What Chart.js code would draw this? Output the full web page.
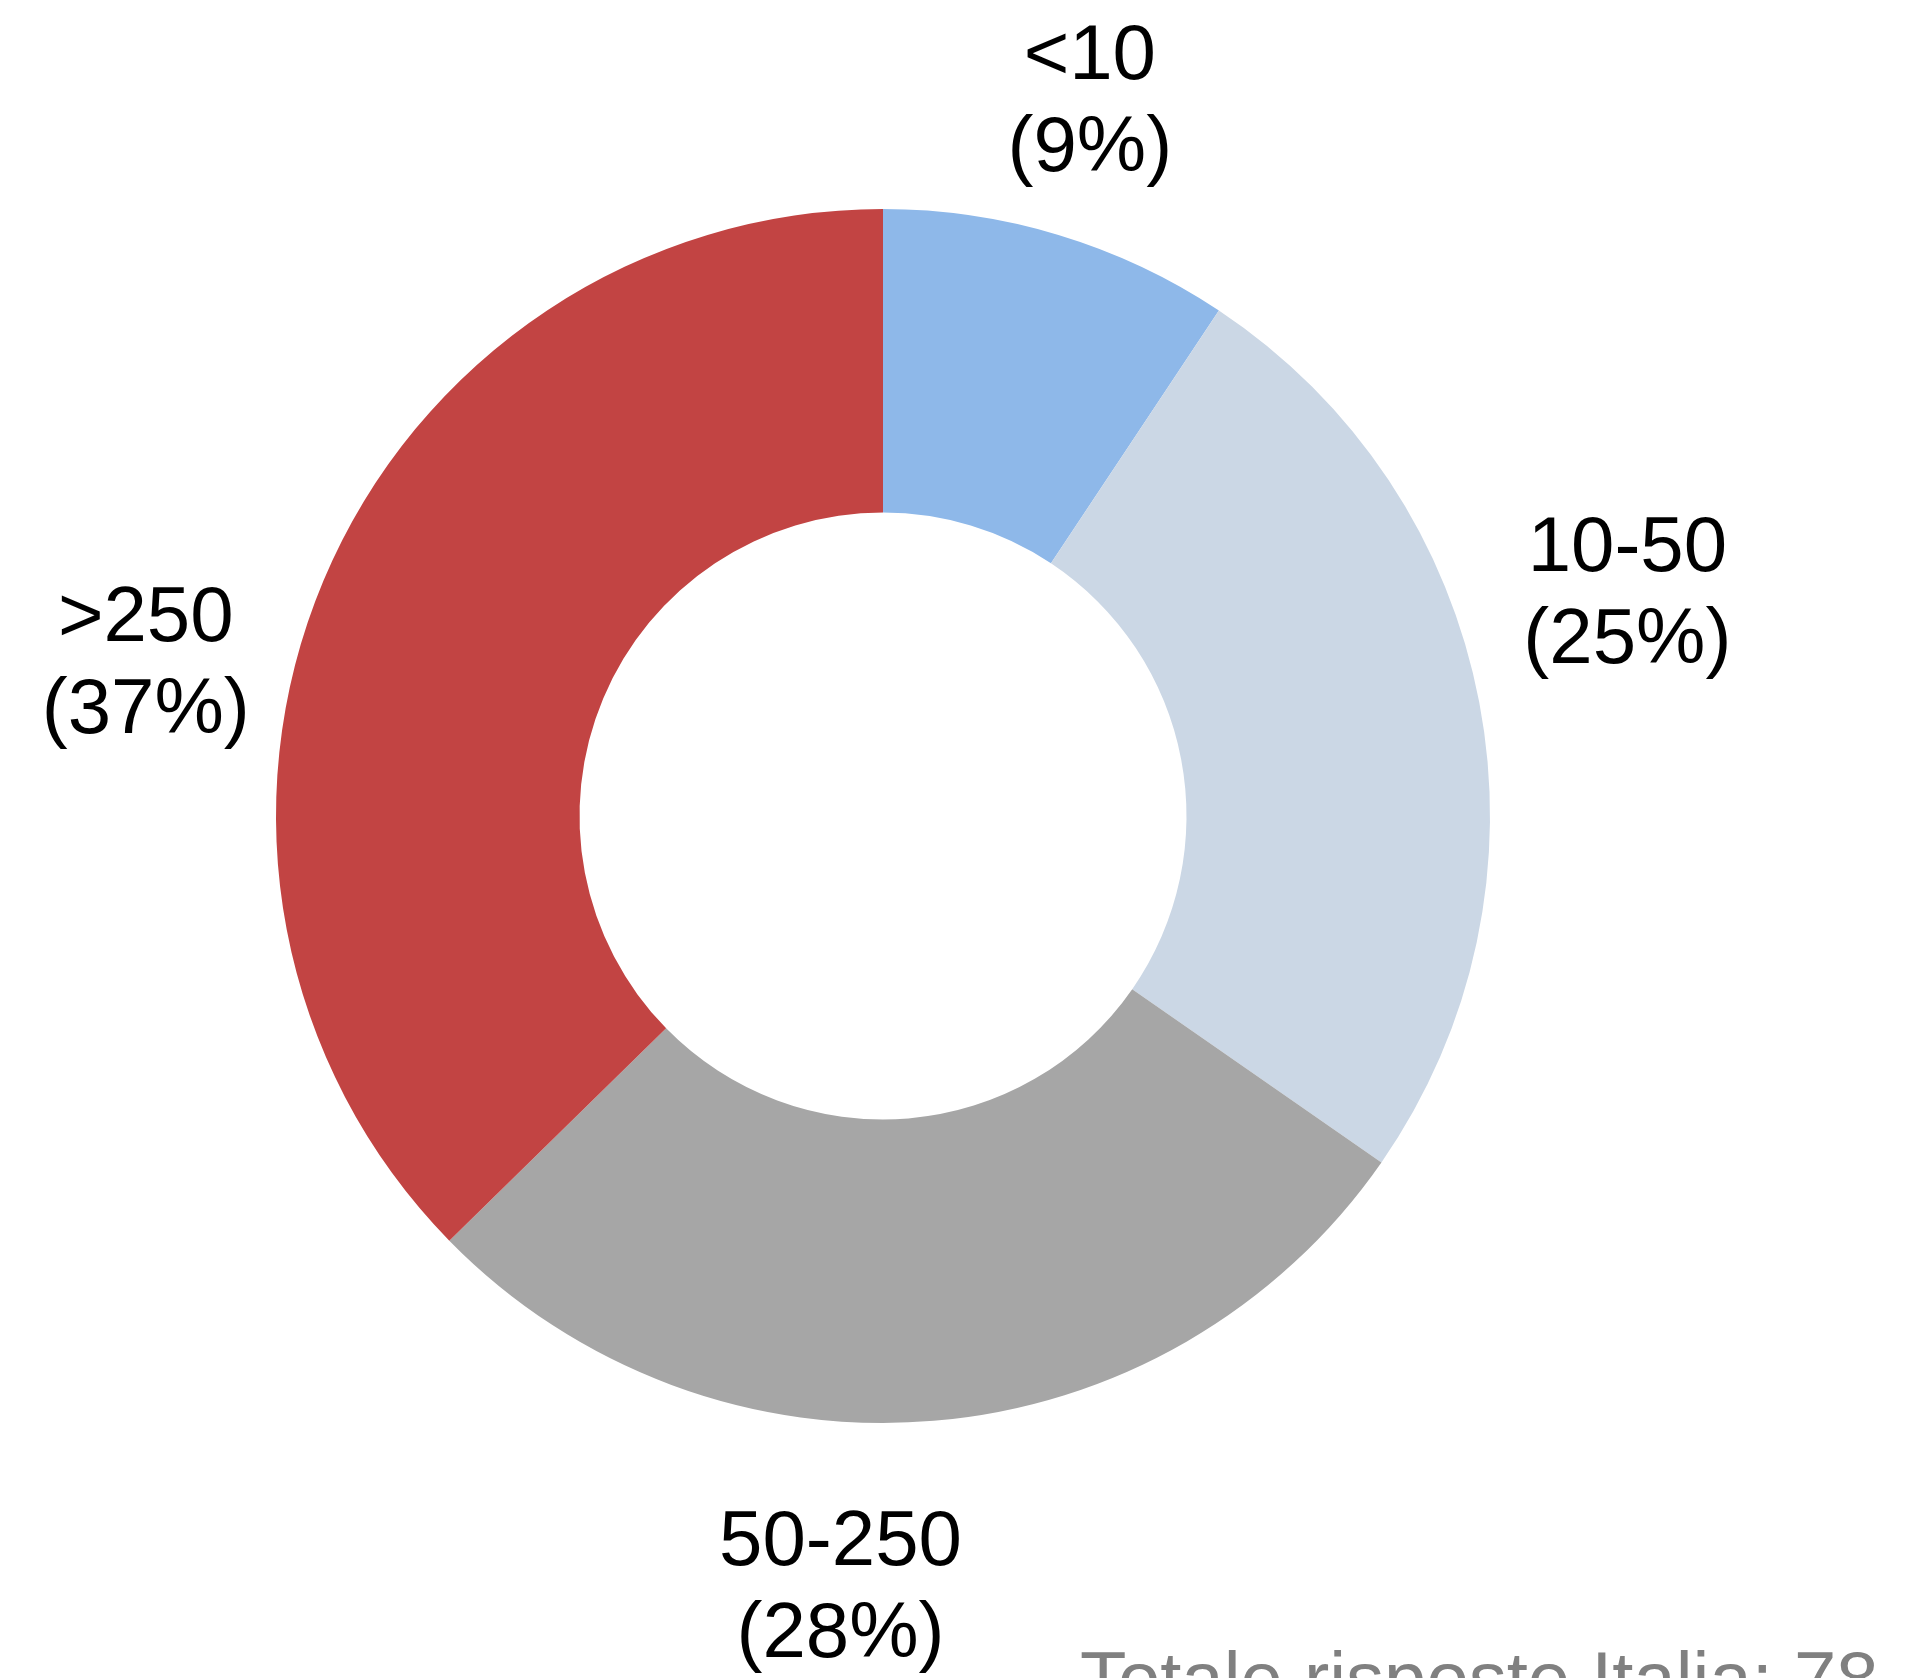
<!DOCTYPE html>
<html>
<head>
<meta charset="utf-8">
<script src="https://cdn.jsdelivr.net/npm/chart.js@4.4.0/dist/chart.umd.min.js"></script>
<style>
  html, body { margin: 0; padding: 0; background: #fff; }
  #wrap { width: 1932px; height: 1678px; position: relative; }
</style>
</head>
<body>
<div id="wrap"><canvas id="myDoughnut" width="1932" height="1678"></canvas></div>
<script>
// risposte per classe di dipendenti
var categories = ['<10', '10-50', '50-250', '>250'];
var counts = [7, 19, 21, 28];
var percentLabels = ['(9%)', '(25%)', '(28%)', '(37%)'];
var colors = ['#8EB8E9', '#CBD7E5', '#A6A6A6', '#C24443'];
var footerText = 'Totale risposte Italia: 78';

// small shifts of each label from its radial spot (px)
var labelNudge = [[-9, 2], [11, -81], [-105, 29], [-49, 139]];

var labelPlugin = {
    id: 'outsideLabels',
    afterDraw: function(chart){
        var ctx = chart.ctx;
        var meta = chart.getDatasetMeta(0);
        ctx.save();
        ctx.font = '78px "Liberation Sans", Arial, sans-serif';
        ctx.fillStyle = '#000';
        ctx.textAlign = 'center';
        ctx.textBaseline = 'middle';
        for(var i in meta.data){
            var arc = meta.data[i];
            var mid = (arc.startAngle + arc.endAngle) / 2;
            var r = arc.outerRadius * 1.23;
            var x = arc.x + Math.cos(mid) * r + labelNudge[i][0];
            var y = arc.y + Math.sin(mid) * r + labelNudge[i][1];
            ctx.fillText(categories[i], x, y - 46);
            ctx.fillText(percentLabels[i], x, y + 46);
        }
        ctx.fillStyle = '#808080';
        ctx.font = '76px "Liberation Sans", Arial, sans-serif';
        ctx.textAlign = 'left';
        ctx.textBaseline = 'alphabetic';
        ctx.fillText(footerText, 1080, 1705);
        ctx.restore();
    }
};

var chartData = {
    labels: categories,
    datasets: [
        {
            data: counts,
            backgroundColor: colors,
            borderWidth: 0,
            hoverOffset: 0
        }
    ]
};

var ctx = document.getElementById('myDoughnut');
var doughnut = new Chart(ctx, {
    type: 'doughnut',
    data: chartData,
    options: {
        responsive: false,
        animation: false,
        cutout: '50%',
        layout: { padding: { left: 276, right: 442, top: 209, bottom: 255 } },
        plugins: {
            legend: { display: false },
            tooltip: { enabled: false }
        }
    },
    plugins: [labelPlugin]
});
</script>
</body>
</html>
